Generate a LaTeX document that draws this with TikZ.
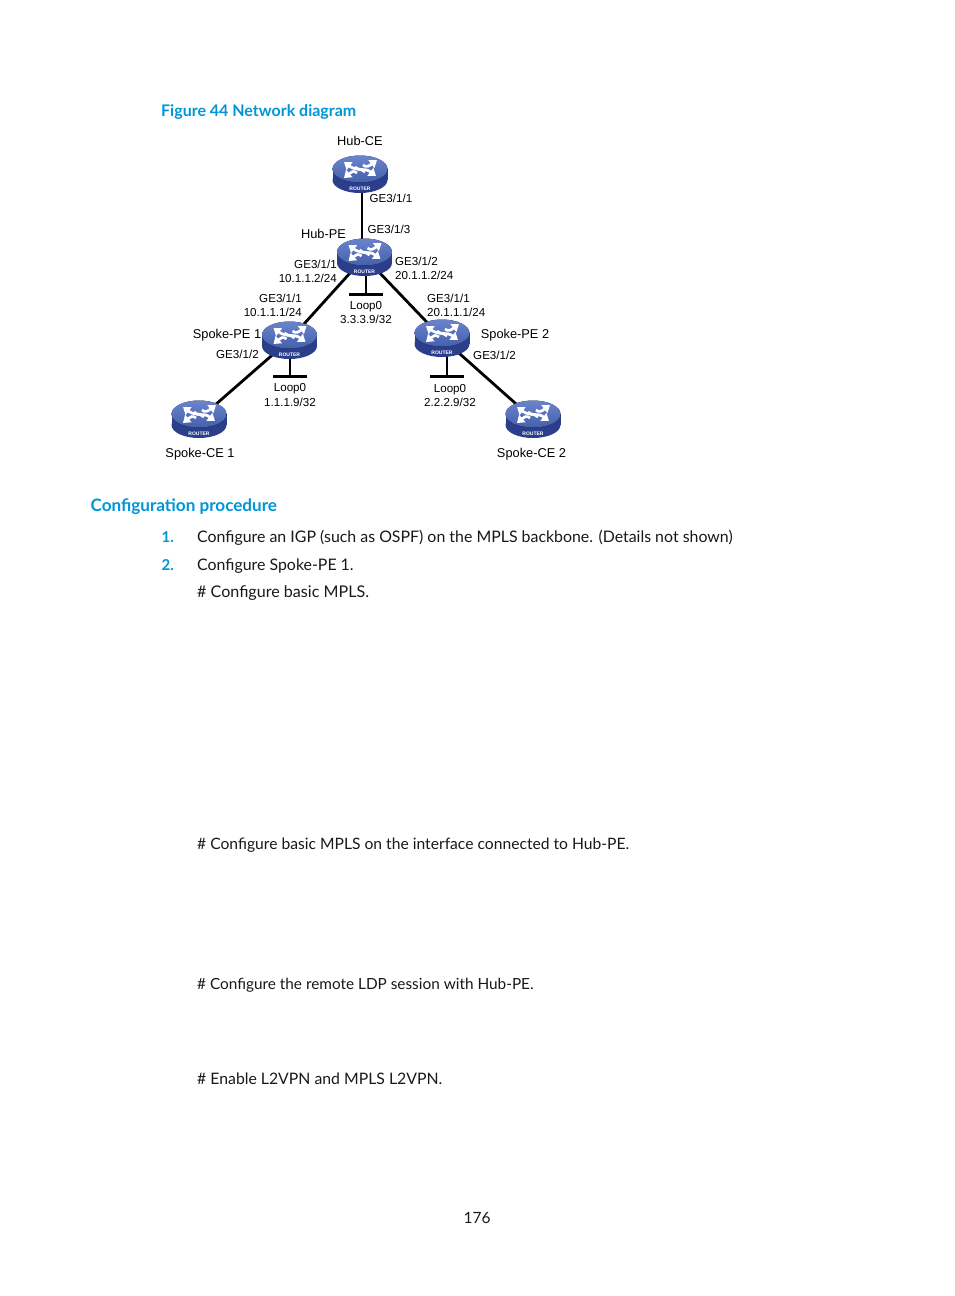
\documentclass[tikz,border=0pt]{standalone}
\usepackage{fontspec}
\setmainfont{Lato}
\newfontfamily\labelfont{Liberation Sans}
\usetikzlibrary{shapes.geometric,arrows.meta}
\definecolor{hpblue}{HTML}{0096D6}
\definecolor{rtop}{HTML}{4560AC}
\definecolor{rtopl}{HTML}{6A84CC}
\definecolor{rside}{HTML}{2A3E8C}
\tikzset{
 routerbase/.style={ellipse,minimum width=50pt,minimum height=32pt,inner sep=0pt},
 lab/.style={font=\labelfont\fontsize{12.8}{13}\selectfont,text=black,inner sep=0pt,align=center},
 port/.style={font=\labelfont\fontsize{11.6}{13}\selectfont,text=black,inner sep=0pt,align=center},
 body/.style={font=\fontsize{15.9}{18}\selectfont,text=black!90,anchor=base west,inner sep=0pt},
 head/.style={text=hpblue,anchor=base west,inner sep=0pt},
 num/.style={font=\bfseries\fontsize{15}{18}\selectfont,text=hpblue,anchor=base west,inner sep=0pt},
 link/.style={draw=black,line width=2.8pt},
 stub/.style={draw=black,line width=2.4pt},
 loopbar/.style={draw=black,line width=2.8pt},
 rarrow/.style={draw=white,line width=2.7pt,-{Triangle[length=7pt,width=9.5pt]}},
}
\newcommand{\routerbody}[1]{%
 \begin{scope}[shift={(#1)}]
  \fill[rside] (0,6) ellipse[x radius=27.5,y radius=13];
  \fill[rside] (-27.5,-5) rectangle (27.5,6);
  \fill[top color=rtopl,bottom color=rtop] (0,-5) ellipse[x radius=27.5,y radius=13.5];
  \draw[rarrow] (5,-2) .. controls (0,-7) and (-4,-3) .. (-16,-12);
  \draw[rarrow] (-5,-7) .. controls (-1,-2) and (4,-7) .. (16,2);
  \draw[rarrow] (3,-9) .. controls (6,-6) and (9,-8) .. (17,-14);
  \draw[rarrow] (-3,-1) .. controls (-6,-4) and (-9,-2) .. (-16,4);
  \node[font=\labelfont\bfseries\fontsize{5}{6}\selectfont,text=white,inner sep=0pt] at (0,14.5) {ROUTER};
 \end{scope}}
\begin{document}
\begin{tikzpicture}[x=1pt,y=-1pt]
\useasboundingbox (0,0) rectangle (954,1296);
\fill[white] (0,0) rectangle (954,1296);
% routers
\node[routerbase] (hubce) at (360,174) {};
\node[routerbase] (hubpe) at (364.5,257) {};
\node[routerbase] (spe1) at (289.5,340) {};
\node[routerbase] (spe2) at (442,338) {};
\node[routerbase] (sce1) at (199,419) {};
\node[routerbase] (sce2) at (533,419) {};
% loop bars
\coordinate (lb0) at (366,294.5);
\coordinate (lb1) at (290,376.5);
\coordinate (lb2) at (447,376.5);
\coordinate (tce) at (362,188);
\coordinate (tpe) at (362,242);
\draw[link] (tce) -- (tpe);
\draw[link] (hubpe) -- (spe1);
\draw[link] (hubpe) -- (spe2);
\draw[link] (spe1) -- (sce1);
\draw[link] (spe2) -- (sce2);
\draw[stub] (366,270) -- (lb0);
\draw[stub] (290,355) -- (lb1);
\draw[stub] (447,353) -- (lb2);
\draw[loopbar] ([xshift=-17pt]lb0) -- ([xshift=17pt]lb0);
\draw[loopbar] ([xshift=-17pt]lb1) -- ([xshift=17pt]lb1);
\draw[loopbar] ([xshift=-17pt]lb2) -- ([xshift=17pt]lb2);
\routerbody{hubce}
\routerbody{hubpe}
\routerbody{spe1}
\routerbody{spe2}
\routerbody{sce1}
\routerbody{sce2}
% labels
\node[lab] (l1) at (360,141) {Hub-CE};
\node[port] (l2) at (391,198) {GE3/1/1};
\node[port] (l3) at (389,229) {GE3/1/3};
\node[lab] (l4) at (323.5,234) {Hub-PE};
\node[port,align=right,anchor=east] (l5) at (337,271) {GE3/1/1\\[1pt]10.1.1.2/24};
\node[port,align=left,anchor=west] (l6) at (395,268.5) {GE3/1/2\\[1pt]20.1.1.2/24};
\node[port,align=right,anchor=east] (l7) at (302,305.5) {GE3/1/1\\[1pt]10.1.1.1/24};
\node[port,align=left,anchor=west] (l8) at (427,305) {GE3/1/1\\[1pt]20.1.1.1/24};
\node[port] (l9) at (366,313) {Loop0\\[1pt]3.3.3.9/32};
\node[lab] (l10) at (227,335) {Spoke-PE 1};
\node[lab] (l11) at (515,335) {Spoke-PE 2};
\node[port] (l12) at (237.5,354) {GE3/1/2};
\node[port] (l13) at (494.5,355) {GE3/1/2};
\node[port] (l14) at (290,395) {Loop0\\[1pt]1.1.1.9/32};
\node[port] (l15) at (450,396) {Loop0\\[1pt]2.2.2.9/32};
\node[lab] (l16) at (200,454.5) {Spoke-CE 1};
\node[lab] (l17) at (531.5,454.5) {Spoke-CE 2};
% page text
\node[head,font=\bfseries\fontsize{16}{20}\selectfont] (t1) at (161,116) {Figure 44 Network diagram};
\node[head,font=\bfseries\fontsize{17.1}{20}\selectfont] (t2) at (90.5,511) {Configuration procedure};
\node[num] (n1) at (161.5,542) {1.};
\node[num] (n2) at (161.5,570) {2.};
\node[body] (b1) at (197,542) {Configure an IGP (such as OSPF) on the MPLS backbone. (Details not shown)};
\node[body] (b2) at (197,570) {Configure Spoke-PE 1.};
\node[body,font=\fontsize{16.1}{18}\selectfont] (b3) at (197,597) {\# Configure basic MPLS.};
\node[body,font=\fontsize{15.65}{18}\selectfont] (b4) at (197,849) {\# Configure basic MPLS on the interface connected to Hub-PE.};
\node[body,font=\fontsize{15.35}{18}\selectfont] (b5) at (197,989) {\# Configure the remote LDP session with Hub-PE.};
\node[body,font=\fontsize{15.8}{18}\selectfont] (b6) at (197,1084) {\# Enable L2VPN and MPLS L2VPN.};
\node[body,anchor=base,font=\fontsize{15.5}{18}\selectfont] (pg) at (477,1223) {176};
\end{tikzpicture}
\end{document}
